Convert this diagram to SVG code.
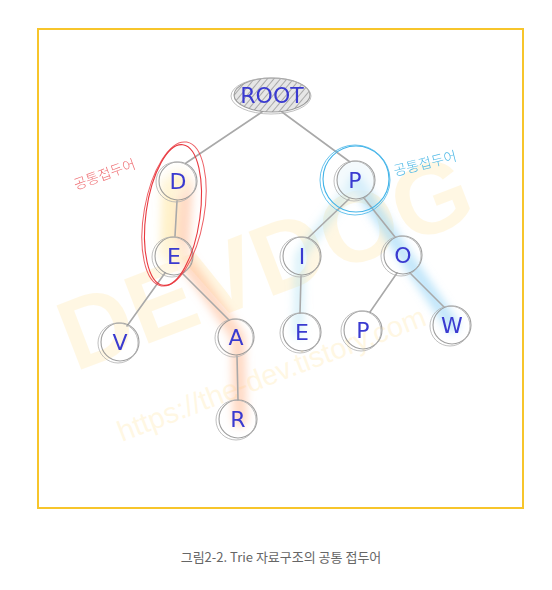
<svg xmlns="http://www.w3.org/2000/svg" width="552" height="590" viewBox="0 0 552 590">
<defs>
<style>
.frame{fill:none;stroke:#f7c52b;stroke-width:2}
.edge{fill:none;stroke:#a9a9a9;stroke-width:1.6;stroke-linecap:round}
.ring{fill:none;stroke:#8e8e8e;stroke-width:1.1;opacity:0.85}
.ring2{fill:none;stroke:#b0b0b0;stroke-width:1;opacity:0.8}
.letter{font-family:"DejaVu Sans","Liberation Sans",sans-serif;font-size:22px;fill:#3a3ad0;text-anchor:middle;dominant-baseline:central}
.wm{font-family:"Liberation Sans","DejaVu Sans",sans-serif;fill:#ffcf4a;opacity:0.15}
.cap{font-family:"Noto Sans CJK KR","Noto Sans",sans-serif;font-size:13px;fill:#666;text-anchor:middle}
.lab{font-family:"Noto Sans CJK KR",sans-serif;font-size:14px;font-weight:300}
</style>
<filter id="blur" x="-50%" y="-50%" width="200%" height="200%"><feGaussianBlur stdDeviation="4"/></filter>
<pattern id="hatch" width="5" height="5" patternUnits="userSpaceOnUse" patternTransform="rotate(40)">
<rect width="5" height="5" fill="#e0e0e0"/>
<line x1="0" y1="0" x2="0" y2="5" stroke="#8a8a8a" stroke-width="1.8"/>
</pattern>
<radialGradient id="warm" cx="0.5" cy="0.5" r="0.6"><stop offset="0" stop-color="#fff1c8"/><stop offset="1" stop-color="#fff" stop-opacity="0"/></radialGradient>
</defs>
<rect width="552" height="590" fill="#fff"/>
<rect class="frame" x="38" y="29" width="485" height="479"/>

<g id="watermark">
<text class="wm" x="75" y="372" font-size="100" font-weight="bold" transform="rotate(-21 75 372)">DEVDOG</text>
<text class="wm" x="122" y="442" font-size="29" transform="rotate(-21 122 442)">https://the-dev.tistory.com</text>
</g>

<g id="highlights" filter="url(#blur)">
<path d="M170 180 L168 256" stroke="#ffe08a" stroke-width="16" opacity="0.45" fill="none"/>
<path d="M186 186 L182 256 L238 337 L240 420" stroke="#ffb48a" stroke-width="14" opacity="0.5" fill="none" stroke-linecap="round"/>
<path d="M356 181 L405 256 L452 325" stroke="#8fd2f5" stroke-width="14" opacity="0.55" fill="none" stroke-linecap="round"/>
<path d="M352 185 L300 256 L298 333" stroke="#9fdcf0" stroke-width="10" opacity="0.4" fill="none" stroke-linecap="round"/>
</g>

<g id="connectors">
<line class="edge" x1="262" y1="112" x2="186" y2="163"/>
<line class="edge" x1="282" y1="112" x2="350" y2="162"/>
<line class="edge" x1="177" y1="201" x2="175" y2="236"/>
<line class="edge" x1="165" y1="273" x2="127" y2="326"/>
<line class="edge" x1="183" y1="274" x2="229" y2="320"/>
<line class="edge" x1="237" y1="356" x2="238" y2="400"/>
<line class="edge" x1="349" y1="199" x2="308" y2="238"/>
<line class="edge" x1="364" y1="198" x2="395" y2="237"/>
<line class="edge" x1="301" y1="276" x2="300" y2="313"/>
<line class="edge" x1="397" y1="273" x2="370" y2="312"/>
<line class="edge" x1="410" y1="273" x2="444" y2="307"/>
</g>

<g id="node-ROOT">
<ellipse cx="272" cy="95" rx="38" ry="17" fill="url(#hatch)" opacity="0.8"/>
<ellipse class="ring" cx="272" cy="95" rx="38" ry="17"/>
<ellipse class="ring2" cx="271" cy="96" rx="40" ry="18"/>
<text class="letter" x="272" y="95" font-size="24">ROOT</text>
</g>

<g id="node-D">
<circle cx="178" cy="181" r="19" fill="url(#warm)"/>
<circle class="ring" cx="178" cy="181" r="19"/><circle class="ring2" cx="176" cy="182" r="20"/>
<text class="letter" x="178" y="181">D</text>
</g>
<g id="node-P">
<circle cx="356" cy="180" r="19" fill="#eaf6fc" opacity="0.5"/>
<circle class="ring" cx="356" cy="180" r="19"/><circle class="ring2" cx="354" cy="181" r="20"/>
<text class="letter" x="355" y="180">P</text>
</g>
<g id="node-E">
<circle cx="174" cy="256" r="19" fill="url(#warm)"/>
<circle class="ring" cx="174" cy="256" r="19"/><circle class="ring2" cx="172" cy="257" r="20"/>
<text class="letter" x="174" y="256">E</text>
</g>
<g id="node-I">
<circle class="ring" cx="302" cy="256" r="19"/><circle class="ring2" cx="300" cy="257" r="20"/>
<text class="letter" x="302" y="256">I</text>
</g>
<g id="node-O">
<circle class="ring" cx="403" cy="255" r="19"/><circle class="ring2" cx="401" cy="256" r="20"/>
<text class="letter" x="403" y="255">O</text>
</g>
<g id="node-V">
<circle class="ring" cx="120" cy="342" r="19"/><circle class="ring2" cx="118" cy="343" r="20"/>
<text class="letter" x="120" y="342">V</text>
</g>
<g id="node-A">
<circle class="ring" cx="236" cy="337" r="18"/><circle class="ring2" cx="234" cy="338" r="19"/>
<text class="letter" x="236" y="337">A</text>
</g>
<g id="node-E2">
<circle class="ring" cx="302" cy="332" r="19"/><circle class="ring2" cx="300" cy="333" r="20"/>
<text class="letter" x="302" y="332">E</text>
</g>
<g id="node-P2">
<circle class="ring" cx="363" cy="330" r="19"/><circle class="ring2" cx="361" cy="331" r="20"/>
<text class="letter" x="363" y="330">P</text>
</g>
<g id="node-W">
<circle class="ring" cx="452" cy="325" r="19"/><circle class="ring2" cx="450" cy="326" r="20"/>
<text class="letter" x="452" y="325">W</text>
</g>
<g id="node-R">
<circle class="ring" cx="238" cy="419" r="19"/><circle class="ring2" cx="236" cy="420" r="20"/>
<text class="letter" x="238" y="419">R</text>
</g>

<g id="prefix-left">
<ellipse cx="173" cy="215" rx="27" ry="71" fill="none" stroke="#e8383f" stroke-width="1.1" transform="rotate(8 173 215)"/>
<ellipse cx="174" cy="214" rx="30" ry="73" fill="none" stroke="#e8383f" stroke-width="1" opacity="0.8" transform="rotate(10 174 214)"/>
<text class="lab" x="76" y="190" fill="#ef6f74" transform="rotate(-20 76 190)">공통접두어</text>
</g>
<g id="prefix-right">
<circle cx="356" cy="179" r="33" fill="none" stroke="#43b4e8" stroke-width="1.1"/>
<circle cx="355" cy="180" r="35" fill="none" stroke="#43b4e8" stroke-width="1" opacity="0.8"/>
<text class="lab" x="395" y="176" fill="#4fb9e6" transform="rotate(-14 395 176)">공통접두어</text>
</g>

<text class="cap" x="281" y="562">그림2-2. Trie 자료구조의 공통 접두어</text>
</svg>
